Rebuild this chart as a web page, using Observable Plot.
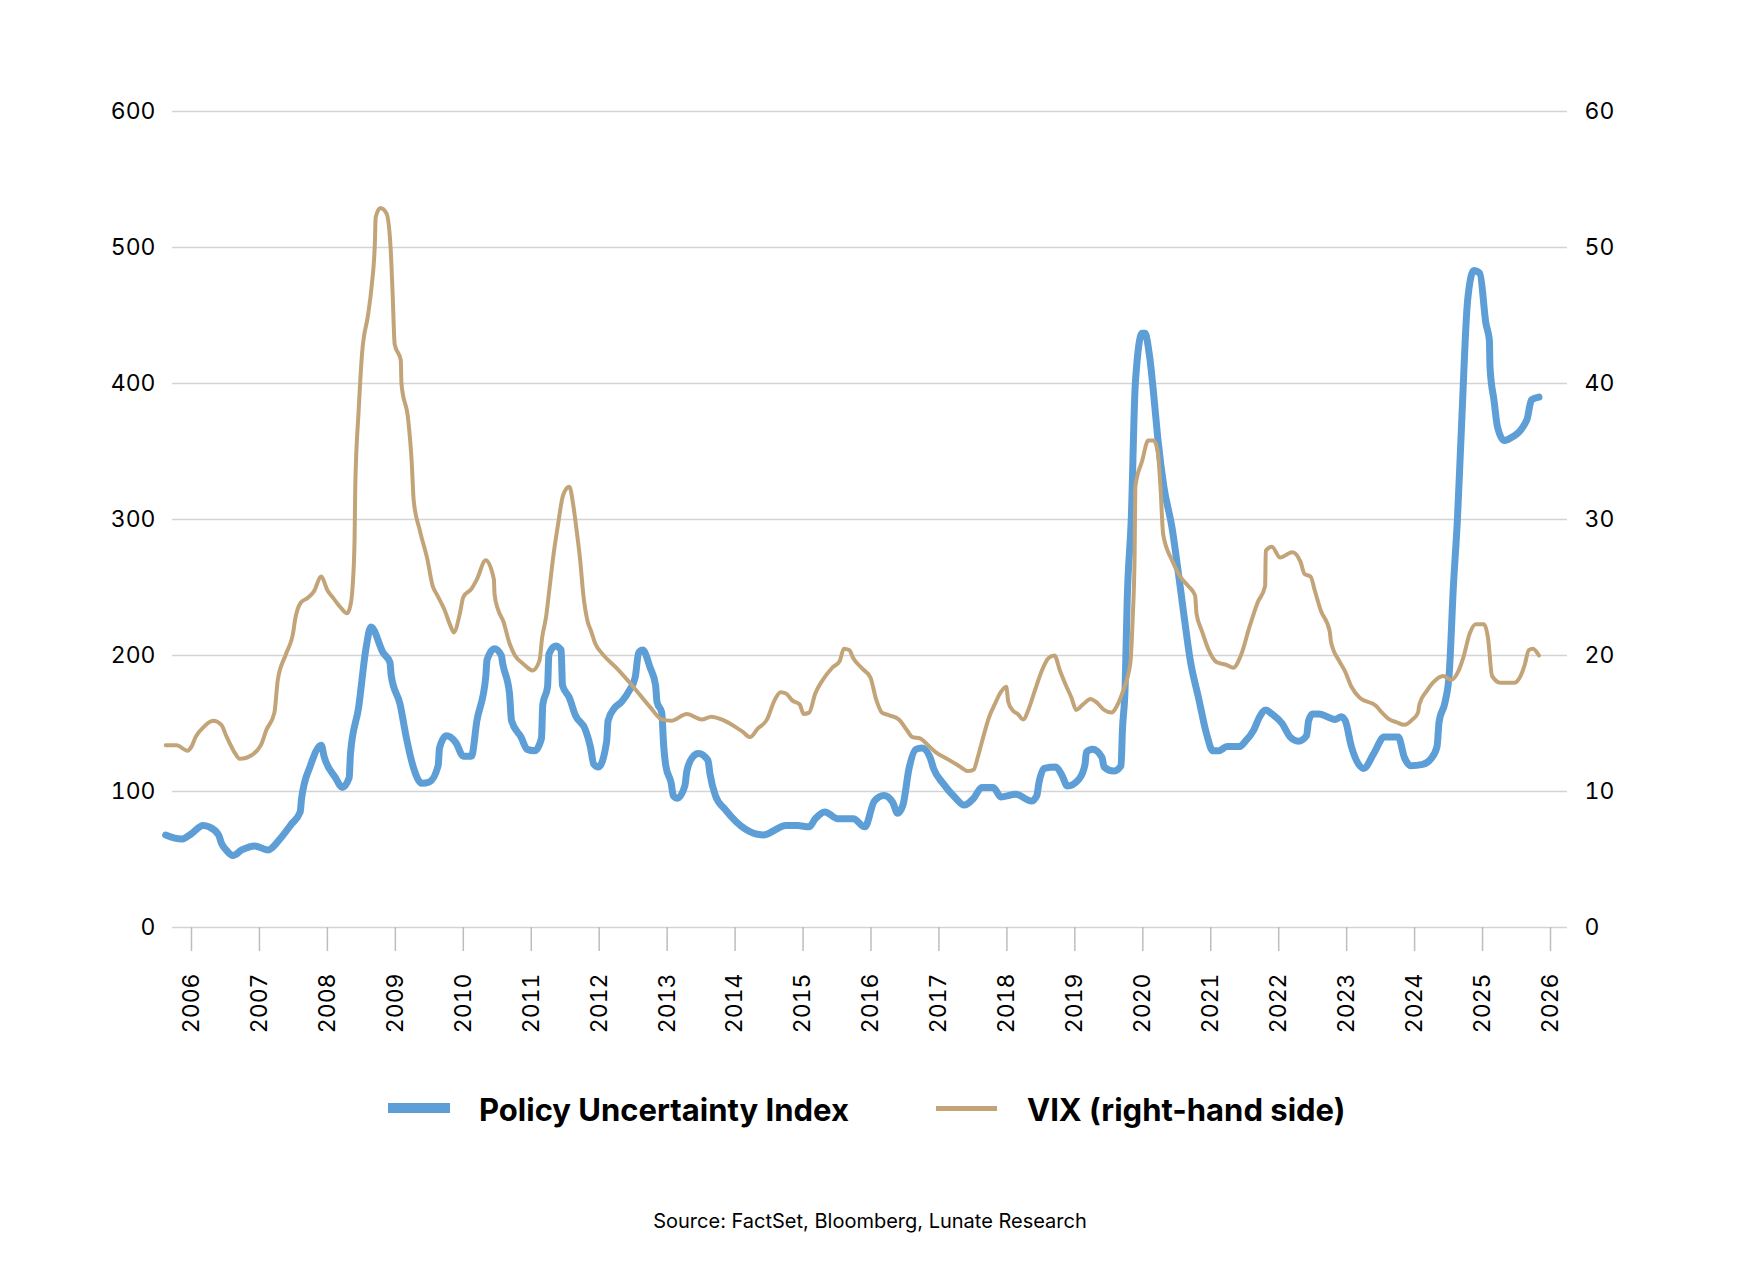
<!DOCTYPE html>
<html>
<head>
<meta charset="utf-8">
<script src="https://cdn.jsdelivr.net/npm/d3@7"></script>
<script src="https://cdn.jsdelivr.net/npm/@observablehq/plot@0.6"></script>
<style>
  html, body { margin: 0; padding: 0; background: #fff; }
  #wrap { position: relative; width: 1740px; height: 1272px; font-family: Inter, "Noto Sans", sans-serif; color: #000; }
  #chart { position: absolute; left: 0; top: 0; }
  .sw { position: absolute; }
  .lg { position: absolute; font-weight: 700; font-size: 31px; line-height: 31px; white-space: nowrap; }
  #src { position: absolute; left: 0; width: 1740px; text-align: center; font-size: 20px; line-height: 20px; }
</style>
</head>
<body>
<div id="wrap">
  <div id="chart"></div>
  <div class="sw" style="left:388px;top:1103px;width:62px;height:10px;background:#5E9ED6"></div>
  <div class="lg" style="left:479px;top:1094px">Policy Uncertainty Index</div>
  <div class="sw" style="left:936px;top:1106px;width:61px;height:5px;background:#C2A478"></div>
  <div class="lg" style="left:1027px;top:1094px">VIX (right-hand side)</div>
  <div id="src" style="top:1211px">Source: FactSet, Bloomberg, Lunate Research</div>
</div>
<script>
// ---- data ----
const years = d3.range(2006, 2027);
const leftTicks = [0, 100, 200, 300, 400, 500, 600];

const policyT = [2005.62,2005.85,2006.00,2006.17,2006.26,2006.40,2006.44,2006.51,2006.61,2006.74,2006.93,2007.12,2007.30,2007.47,2007.60,2007.62,2007.75,2007.91,2007.95,2008.12,2008.22,2008.32,2008.34,2008.46,2008.57,2008.64,2008.82,2008.92,2008.94,2009.07,2009.16,2009.27,2009.39,2009.50,2009.63,2009.65,2009.75,2009.89,2010.00,2010.12,2010.20,2010.33,2010.35,2010.46,2010.56,2010.58,2010.68,2010.71,2010.85,2010.94,2011.05,2011.15,2011.17,2011.24,2011.26,2011.36,2011.44,2011.46,2011.56,2011.65,2011.80,2011.87,2011.92,2011.99,2012.11,2012.13,2012.22,2012.33,2012.44,2012.53,2012.58,2012.64,2012.75,2012.83,2012.85,2012.92,2012.95,2012.98,2013.06,2013.09,2013.15,2013.26,2013.29,2013.37,2013.46,2013.60,2013.63,2013.71,2013.85,2014.16,2014.41,2014.75,2014.92,2015.09,2015.18,2015.32,2015.51,2015.74,2015.91,2016.05,2016.19,2016.32,2016.39,2016.47,2016.56,2016.66,2016.75,2016.87,2016.92,2017.06,2017.23,2017.37,2017.51,2017.63,2017.80,2017.91,2018.13,2018.36,2018.44,2018.47,2018.55,2018.72,2018.81,2018.89,2019.06,2019.15,2019.17,2019.26,2019.40,2019.43,2019.57,2019.68,2019.70,2019.74,2019.77,2019.83,2019.89,2019.99,2020.03,2020.10,2020.16,2020.22,2020.31,2020.43,2020.52,2020.61,2020.70,2020.82,2020.94,2021.03,2021.12,2021.24,2021.42,2021.51,2021.63,2021.72,2021.81,2021.90,2022.05,2022.17,2022.29,2022.41,2022.44,2022.50,2022.59,2022.83,2022.92,2022.98,2023.07,2023.25,2023.40,2023.55,2023.76,2023.85,2023.94,2024.12,2024.24,2024.33,2024.36,2024.45,2024.51,2024.57,2024.63,2024.69,2024.78,2024.87,2024.96,2025.05,2025.10,2025.11,2025.17,2025.22,2025.32,2025.38,2025.65,2025.72,2025.83];
const policyV = [68,65,69,75,74,68,62,57,53,57,60,57,65,76,85,95,119,134,126,110,103,110,128,162,206,221,202,195,185,164,140,117,106,107,119,132,141,136,126,126,152,184,197,205,200,194,172,152,140,131,130,139,164,177,201,207,204,178,169,156,145,133,120,118,137,152,161,166,174,184,202,204,191,178,166,158,133,119,106,97,95,104,115,125,128,123,113,97,87,72,68,75,75,74,80,85,80,80,74,93,97,92,84,90,117,131,132,125,117,106,96,90,95,103,103,96,98,93,97,106,117,118,112,104,109,120,129,131,125,118,115,119,145,177,240,300,400,437,437,420,392,360,324,294,262,228,196,169,142,130,130,133,133,137,145,155,160,157,150,140,137,141,152,157,157,153,155,152,133,117,128,140,140,125,119,120,124,133,151,166,187,250,300,368,461,483,481,444,432,412,387,368,358,359,373,388,390];

const vixT = [2005.62,2005.78,2005.94,2006.00,2006.06,2006.17,2006.32,2006.44,2006.51,2006.63,2006.71,2006.82,2007.02,2007.10,2007.22,2007.27,2007.39,2007.50,2007.52,2007.61,2007.70,2007.80,2007.91,2008.00,2008.09,2008.20,2008.29,2008.34,2008.37,2008.40,2008.41,2008.46,2008.51,2008.60,2008.65,2008.70,2008.71,2008.78,2008.87,2008.93,2008.96,2008.99,2009.08,2009.09,2009.19,2009.24,2009.27,2009.36,2009.47,2009.55,2009.61,2009.72,2009.81,2009.86,2009.95,2010.00,2010.12,2010.20,2010.33,2010.45,2010.46,2010.51,2010.59,2010.68,2010.76,2010.88,2011.02,2011.12,2011.16,2011.22,2011.27,2011.33,2011.39,2011.47,2011.56,2011.62,2011.66,2011.72,2011.77,2011.83,2011.88,2011.94,2012.05,2012.25,2012.50,2012.75,2012.92,2013.06,2013.29,2013.51,2013.65,2013.80,2014.02,2014.11,2014.22,2014.33,2014.47,2014.58,2014.67,2014.75,2014.84,2014.95,2015.01,2015.09,2015.18,2015.29,2015.43,2015.54,2015.60,2015.68,2015.74,2015.88,2015.99,2016.08,2016.16,2016.27,2016.41,2016.53,2016.61,2016.72,2016.84,2016.95,2017.12,2017.29,2017.43,2017.51,2017.57,2017.63,2017.74,2017.82,2017.91,2017.99,2018.02,2018.08,2018.16,2018.24,2018.33,2018.41,2018.50,2018.61,2018.70,2018.78,2018.86,2018.95,2019.02,2019.12,2019.23,2019.31,2019.43,2019.54,2019.62,2019.71,2019.79,2019.82,2019.85,2019.88,2019.89,2019.99,2020.08,2020.16,2020.22,2020.26,2020.30,2020.43,2020.55,2020.67,2020.77,2020.79,2020.87,2020.97,2021.09,2021.24,2021.33,2021.45,2021.57,2021.69,2021.80,2021.81,2021.90,2022.02,2022.20,2022.32,2022.38,2022.47,2022.53,2022.62,2022.75,2022.77,2022.89,2022.98,2023.07,2023.19,2023.43,2023.52,2023.63,2023.73,2023.85,2023.97,2024.05,2024.07,2024.18,2024.27,2024.42,2024.54,2024.63,2024.72,2024.81,2024.90,2025.02,2025.08,2025.14,2025.26,2025.47,2025.56,2025.62,2025.68,2025.74,2025.83];
const vixV = [13.4,13.4,13.0,13.3,14.0,14.7,15.2,14.9,14.1,12.9,12.4,12.5,13.4,14.5,15.8,18.2,20.1,21.8,22.5,23.9,24.2,24.7,25.8,24.8,24.2,23.5,23.1,23.7,25.0,28.5,32.4,38.0,42.2,45.1,47.1,50.5,52.2,52.9,52.5,50.0,46.6,42.9,41.7,40.0,37.3,34.3,31.4,29.2,27.1,25.1,24.5,23.4,22.2,21.7,23.1,24.3,24.9,25.6,27.0,25.6,24.5,23.4,22.5,20.9,20.0,19.4,18.9,19.6,21.3,22.9,25.0,27.5,29.5,31.8,32.4,31.0,29.5,27.0,24.3,22.5,21.8,20.9,20.1,19.1,17.7,16.2,15.3,15.2,15.7,15.3,15.5,15.3,14.7,14.4,14.0,14.6,15.3,16.7,17.3,17.2,16.7,16.4,15.7,15.8,17.2,18.2,19.1,19.6,20.5,20.4,19.8,19.0,18.4,16.7,15.8,15.6,15.3,14.5,14.0,13.9,13.4,12.9,12.4,11.9,11.5,11.6,12.5,13.6,15.5,16.4,17.3,17.7,16.6,16.0,15.7,15.3,16.2,17.4,18.7,19.8,20.0,18.9,17.9,16.9,16.0,16.4,16.8,16.6,16.0,15.8,16.3,17.4,18.7,19.6,22.6,27.5,32.4,34.3,35.8,35.8,35.0,32.4,28.9,27.0,25.8,25.1,24.4,23.1,21.8,20.4,19.5,19.3,19.1,20.1,22.1,23.9,25.1,27.7,28.0,27.2,27.6,26.9,26.0,25.8,24.8,23.3,21.8,21.0,19.6,18.8,17.7,16.9,16.3,15.8,15.3,15.1,14.9,15.3,15.8,16.4,17.4,18.0,18.5,18.2,18.7,19.9,21.6,22.3,22.3,21.3,18.5,18.0,18.0,18.5,19.3,20.4,20.5,20.0];

const blue = "#5E9ED6";
const tan = "#C2A478";

const policyRows = policyT.map((t, i) => ({t, v: policyV[i]}));
const vixRows = vixT.map((t, i) => ({t, v: vixV[i]}));

const chart = Plot.plot({
  width: 1740,
  height: 1060,
  marginLeft: 172,
  marginRight: 173,
  marginTop: 111,
  marginBottom: 133,
  x: {domain: [2005.7204, 2026.2502]},
  y: {domain: [0, 600]},
  style: {fontFamily: "Inter, 'Noto Sans', sans-serif", color: "#000", background: "#fff", overflow: "visible"},
  marks: [
    Plot.gridY(leftTicks, {stroke: "#d4d4d4", strokeOpacity: 1, strokeWidth: 1.5}),
    Plot.axisX(years, {tickSize: 24, tickPadding: 22, tickRotate: -90, stroke: "#bdbdbd", strokeWidth: 1.5, tickFormat: d => String(d), fontSize: 23, label: null}),
    Plot.axisY(leftTicks, {anchor: "left", tickSize: 0, tickPadding: 17, fontSize: 23, label: null}),
    Plot.axisY(leftTicks, {anchor: "right", tickSize: 0, tickPadding: 17, fontSize: 23, tickFormat: d => String(d / 10), label: null}),
    Plot.line(policyRows, {x: "t", y: "v", stroke: blue, strokeWidth: 7, curve: "monotone-x", strokeLinejoin: "round", strokeLinecap: "round"}),
    Plot.line(vixRows, {x: "t", y: d => d.v * 10, stroke: tan, strokeWidth: 4, curve: "monotone-x", strokeLinejoin: "round", strokeLinecap: "round"})
  ]
});
document.getElementById("chart").appendChild(chart);
</script>
</body>
</html>
